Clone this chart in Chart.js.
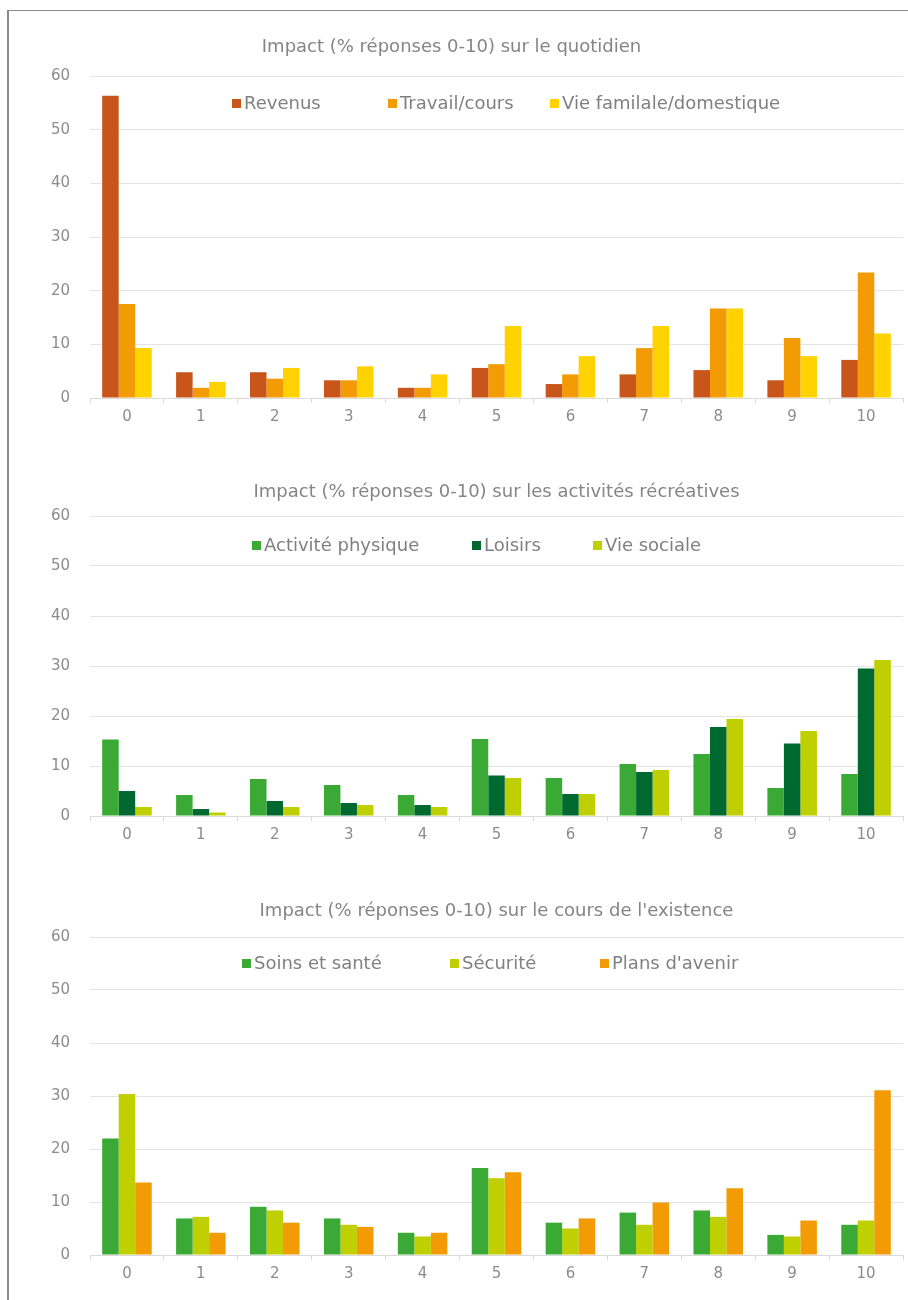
<!DOCTYPE html>
<html>
<head>
<meta charset="utf-8">
<script src="https://cdn.jsdelivr.net/npm/chart.js@4.4.1/dist/chart.umd.min.js"></script>
<style>
    body { margin: 0; background: #fff; }
    #page { position: relative; width: 908px; height: 1300px; overflow: hidden; }
    #frame { position: absolute; left: 7px; top: 10px; width: 910px; height: 1300px; border-left: 2px solid #8a8a8a; border-top: 1px solid #8a8a8a; }
    canvas { position: absolute; left: 0; }
</style>
</head>
<body>
<div id="page">
    <div id="frame"></div>
    <canvas id="c1" width="908" height="408" style="top:20px"></canvas>
    <canvas id="c2" width="908" height="381" style="top:465px"></canvas>
    <canvas id="c3" width="908" height="401" style="top:884px"></canvas>
</div>
<script>
// categories (score 0-10)
const categories = ['0', '1', '2', '3', '4', '5', '6', '7', '8', '9', '10'];
const yTicks = [0, 10, 20, 30, 40, 50, 60];

// chart 1 - quotidien
const title1 = "Impact (% réponses 0-10) sur le quotidien";
const labels1 = ['Revenus', 'Travail/cours', 'Vie familale/domestique'];
const revenus = [56.3, 4.8, 4.8, 3.3, 1.9, 5.6, 2.6, 4.4, 5.2, 3.3, 7.1];
const travail = [17.5, 1.9, 3.6, 3.3, 1.9, 6.3, 4.4, 9.3, 16.7, 11.2, 23.4];
const vieFamiliale = [9.3, 3.0, 5.6, 5.9, 4.4, 13.4, 7.8, 13.4, 16.7, 7.8, 12.0];

// chart 2 - activites recreatives
const title2 = "Impact (% réponses 0-10) sur les activités récréatives";
const labels2 = ['Activité physique', 'Loisirs', 'Vie sociale'];
const activite = [15.3, 4.2, 7.4, 6.2, 4.2, 15.4, 7.6, 10.4, 12.4, 5.6, 8.4];
const loisirs = [5.0, 1.4, 3.0, 2.6, 2.2, 8.1, 4.4, 8.8, 17.8, 14.5, 29.5];
const vieSociale = [1.8, 0.7, 1.8, 2.2, 1.8, 7.6, 4.4, 9.2, 19.4, 17.0, 31.2];

// chart 3 - cours de l'existence
const title3 = "Impact (% réponses 0-10) sur le cours de l'existence";
const labels3 = ['Soins et santé', 'Sécurité', "Plans d'avenir"];
const soins = [22.0, 6.9, 9.1, 6.9, 4.2, 16.4, 6.1, 8.0, 8.4, 3.8, 5.7];
const securite = [30.4, 7.2, 8.4, 5.7, 3.5, 14.5, 5.0, 5.7, 7.2, 3.5, 6.5];
const plans = [13.7, 4.2, 6.1, 5.3, 4.2, 15.6, 6.9, 9.9, 12.6, 6.5, 31.1];

const FONT = "'DejaVu Sans', 'Liberation Sans', Arial, sans-serif";
const GREY_TEXT = '#8c8c8c';
const GRID = '#e3e3e3';

// legend drawn inside the plot area, like the Excel original
const insideLegend = {
    id: 'insideLegend',
    afterDraw(chart, args, opts) {
        const ctx = chart.ctx;
        ctx.save();
        ctx.font = opts.size + 'px ' + FONT;
        ctx.textBaseline = 'middle';
        chart.data.datasets.forEach((ds, i) => {
            const x = opts.xs[i];
            ctx.fillStyle = ds.backgroundColor;
            ctx.fillRect(x, opts.y - 4, 9, 9);
            ctx.fillStyle = '#808080';
            ctx.fillText(ds.label, x + 12, opts.y + 1);
        });
        ctx.restore();
    }
};

function createBarChart(id, title, labels, series, colors, titlePad, fullTitle, legendY, legendXs) {
    const ctx = document.getElementById(id);
    new Chart(ctx, {
        type: 'bar',
        data: {
            labels: categories,
            datasets: series.map((data, i) => ({
                label: labels[i],
                data: data,
                backgroundColor: colors[i],
                borderWidth: 0,
                categoryPercentage: 0.67,
                barPercentage: 1.0
            }))
        },
        options: {
            responsive: false,
            animation: false,
            devicePixelRatio: 1,
            layout: { padding: { left: 0, right: 5, top: 0, bottom: 0 } },
            plugins: {
                legend: { display: false },
                tooltip: { enabled: false },
                title: {
                    display: true,
                    text: title,
                    fullSize: fullTitle,
                    color: '#858585',
                    font: { family: FONT, size: 18, weight: 'normal' },
                    padding: { top: 16.5, bottom: titlePad }
                },
                insideLegend: { y: legendY, xs: legendXs, size: 18 }
            },
            scales: {
                x: {
                    grid: { display: true, drawOnChartArea: false, drawTicks: true, tickLength: 5, color: '#d9d9d9', offset: true },
                    border: { display: true, color: '#d9d9d9' },
                    ticks: { color: GREY_TEXT, font: { family: FONT, size: 15 }, padding: 5 },
                    afterFit(scale) { scale.height = 30; }
                },
                y: {
                    min: 0,
                    max: 60,
                    afterBuildTicks(scale) { scale.ticks = yTicks.map(v => ({ value: v })); },
                    grid: { color: GRID, drawTicks: false },
                    border: { display: false },
                    ticks: { color: GREY_TEXT, font: { family: FONT, size: 15 }, padding: 20 },
                    afterFit(scale) { scale.width = 90; }
                }
            }
        },
        plugins: [insideLegend]
    });
}

createBarChart('c1', title1, labels1, [revenus, travail, vieFamiliale],
    ['#c8551a', '#f29b05', '#ffd200'], 17.9, true, 83, [232, 388, 550]);
createBarChart('c2', title2, labels2, [activite, loisirs, vieSociale],
    ['#3aa935', '#00692f', '#bfcf00'], 12.9, false, 80, [252, 472, 593]);
createBarChart('c3', title3, labels3, [soins, securite, plans],
    ['#3aa935', '#bfcf00', '#f29b05'], 14.9, false, 79, [242, 450, 600]);
</script>
</body>
</html>
